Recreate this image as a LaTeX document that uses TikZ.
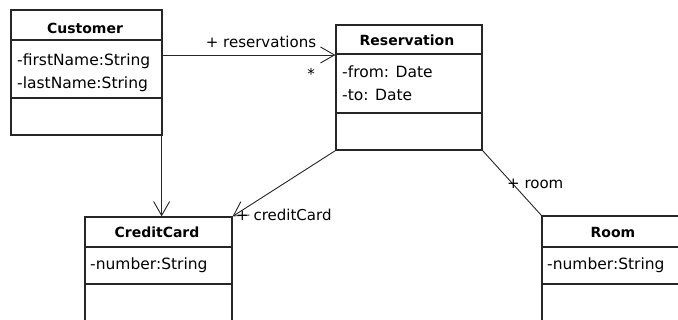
\documentclass[tikz,border=0pt]{standalone}
\usepackage{fontspec}
\setmainfont{DejaVu Sans}
\usetikzlibrary{arrows.meta,calc}
\tikzset{
  classbox/.style={draw=black!85, line width=1.2pt, fill=white, rectangle, inner sep=0pt},
  divider/.style={draw=black!85, line width=1.2pt},
  classname/.style={font=\fontsize{14}{16}\selectfont\bfseries, anchor=base, inner sep=0pt},
  attr/.style={font=\fontsize{15.5}{17}\selectfont, anchor=base west, inner sep=0pt},
  rolelabel/.style={font=\fontsize{15}{17}\selectfont, inner sep=0pt},
  assoc/.style={draw=black!85, line width=0.9pt},
  navig/.style={assoc, -{Straight Barb[length=14pt, width=16pt, line width=0.9pt]}},
}
\begin{document}
\begin{tikzpicture}[x=1pt, y=-1pt]
\useasboundingbox (0,0) rectangle (678,320);

% Customer
\node[classbox, minimum width=151pt, minimum height=125pt] (cust) at (86.5,72.5) {};
\draw[divider] (cust.west |- 0,40) -- (cust.east |- 0,40);
\draw[divider] (cust.west |- 0,98) -- (cust.east |- 0,98);
\node[classname] (custname) at (85,34) {Customer};
\node[attr] (custa1) at (17,66) {-firstName:String};
\node[attr] (custa2) at (17,89) {-lastName:String};

% Reservation
\node[classbox, minimum width=146pt, minimum height=125pt] (res) at (409,87.5) {};
\draw[divider] (res.west |- 0,54) -- (res.east |- 0,54);
\draw[divider] (res.west |- 0,113) -- (res.east |- 0,113);
\node[classname] (resname) at (407,46) {Reservation};
\node[attr] (resa1) at (342,78) {-from: Date};
\node[attr] (resa2) at (342,101) {-to: Date};

% CreditCard
\node[classbox, minimum width=147pt, minimum height=107pt] (cc) at (158.5,270.5) {};
\draw[divider] (cc.west |- 0,247) -- (cc.east |- 0,247);
\draw[divider] (cc.west |- 0,284) -- (cc.east |- 0,284);
\node[classname] (ccname) at (157,238) {CreditCard};
\node[attr] (cca1) at (90,270) {-number:String};

% Room
\node[classbox, minimum width=142pt, minimum height=108pt] (room) at (613,270) {};
\draw[divider] (room.west |- 0,247) -- (room.east |- 0,247);
\draw[divider] (room.west |- 0,284) -- (room.east |- 0,284);
\node[classname] (roomname) at (613,238) {Room};
\node[attr] (rooma1) at (547,270) {-number:String};

% Associations
\draw[navig] (cust.north east |- 0,55) -- (res.north west |- 0,55);
\node[rolelabel] (lres) at (261,42) {+ reservations};
\node[rolelabel] (mres) at (311,74) {*};

\draw[navig] ([xshift=-1pt]cust.south east) -- ([xshift=-1pt]cust.south east |- cc.north);

\draw[navig] (res.south west) -- (cc.north east);
\node[rolelabel, anchor=west] (lcc) at (236,215) {+ creditCard};

\draw[assoc] (res.south east) -- (room.north west);
\node[rolelabel, anchor=west] (lroom) at (507,184) {+ room};
\end{tikzpicture}
\end{document}
